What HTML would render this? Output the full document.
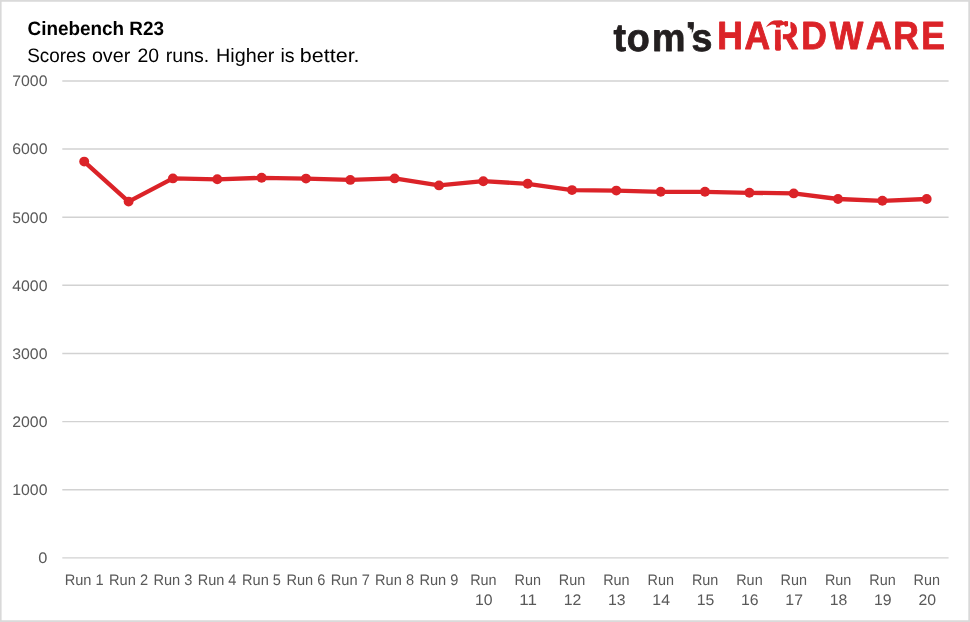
<!DOCTYPE html>
<html lang="en"><head><meta charset="utf-8"><title>Cinebench R23</title>
<style>
html,body{margin:0;padding:0;background:#fff;}
body{width:970px;height:622px;overflow:hidden;font-family:"Liberation Sans",sans-serif;}
svg{display:block;}
text{font-family:"Liberation Sans",sans-serif;text-rendering:geometricPrecision;}
.ax{fill:#595959;font-size:15.3px;}
.logo{font-weight:bold;}
</style></head><body>
<svg width="970" height="622" viewBox="0 0 970 622">
<rect x="0" y="0" width="970" height="622" fill="#fff"/>
<rect x="0.75" y="0.9" width="968.4" height="620.2" fill="none" stroke="#d9d9d9" stroke-width="1.7"/>
<line x1="62.3" y1="80.90" x2="948.6" y2="80.90" stroke="#d2d2d2" stroke-width="1.45"/>
<line x1="62.3" y1="149.04" x2="948.6" y2="149.04" stroke="#d2d2d2" stroke-width="1.45"/>
<line x1="62.3" y1="217.18" x2="948.6" y2="217.18" stroke="#d2d2d2" stroke-width="1.45"/>
<line x1="62.3" y1="285.32" x2="948.6" y2="285.32" stroke="#d2d2d2" stroke-width="1.45"/>
<line x1="62.3" y1="353.46" x2="948.6" y2="353.46" stroke="#d2d2d2" stroke-width="1.45"/>
<line x1="62.3" y1="421.60" x2="948.6" y2="421.60" stroke="#d2d2d2" stroke-width="1.45"/>
<line x1="62.3" y1="489.74" x2="948.6" y2="489.74" stroke="#d2d2d2" stroke-width="1.45"/>
<line x1="62.3" y1="557.88" x2="948.6" y2="557.88" stroke="#d2d2d2" stroke-width="1.45"/>
<text class="ax" x="12.29" y="86.25" textLength="35.18" lengthAdjust="spacingAndGlyphs">7000</text>
<text class="ax" x="12.29" y="154.39" textLength="35.18" lengthAdjust="spacingAndGlyphs">6000</text>
<text class="ax" x="12.29" y="222.53" textLength="35.18" lengthAdjust="spacingAndGlyphs">5000</text>
<text class="ax" x="12.29" y="290.67" textLength="35.18" lengthAdjust="spacingAndGlyphs">4000</text>
<text class="ax" x="12.29" y="358.81" textLength="35.18" lengthAdjust="spacingAndGlyphs">3000</text>
<text class="ax" x="12.29" y="426.95" textLength="35.18" lengthAdjust="spacingAndGlyphs">2000</text>
<text class="ax" x="12.29" y="495.09" textLength="35.18" lengthAdjust="spacingAndGlyphs">1000</text>
<text class="ax" x="38.36" y="563.23" textLength="9.13" lengthAdjust="spacingAndGlyphs">0</text>
<polyline points="84.2,161.6 128.6,201.6 172.9,178.4 217.3,179.3 261.6,177.8 306.0,178.6 350.3,179.9 394.6,178.4 439.0,185.4 483.3,181.2 527.7,183.8 572.0,190.1 616.3,190.6 660.7,191.8 705.0,191.8 749.4,192.8 793.7,193.4 838.0,199.0 882.4,200.8 926.7,199.0" fill="none" stroke="#db2328" stroke-width="4.3" stroke-linejoin="round" stroke-linecap="round"/>
<circle cx="84.2" cy="161.6" r="4.95" fill="#db2328"/>
<circle cx="128.6" cy="201.6" r="4.95" fill="#db2328"/>
<circle cx="172.9" cy="178.4" r="4.95" fill="#db2328"/>
<circle cx="217.3" cy="179.3" r="4.95" fill="#db2328"/>
<circle cx="261.6" cy="177.8" r="4.95" fill="#db2328"/>
<circle cx="306.0" cy="178.6" r="4.95" fill="#db2328"/>
<circle cx="350.3" cy="179.9" r="4.95" fill="#db2328"/>
<circle cx="394.6" cy="178.4" r="4.95" fill="#db2328"/>
<circle cx="439.0" cy="185.4" r="4.95" fill="#db2328"/>
<circle cx="483.3" cy="181.2" r="4.95" fill="#db2328"/>
<circle cx="527.7" cy="183.8" r="4.95" fill="#db2328"/>
<circle cx="572.0" cy="190.1" r="4.95" fill="#db2328"/>
<circle cx="616.3" cy="190.6" r="4.95" fill="#db2328"/>
<circle cx="660.7" cy="191.8" r="4.95" fill="#db2328"/>
<circle cx="705.0" cy="191.8" r="4.95" fill="#db2328"/>
<circle cx="749.4" cy="192.8" r="4.95" fill="#db2328"/>
<circle cx="793.7" cy="193.4" r="4.95" fill="#db2328"/>
<circle cx="838.0" cy="199.0" r="4.95" fill="#db2328"/>
<circle cx="882.4" cy="200.8" r="4.95" fill="#db2328"/>
<circle cx="926.7" cy="199.0" r="4.95" fill="#db2328"/>
<text class="ax" x="64.70" y="584.6" textLength="39.01" lengthAdjust="spacingAndGlyphs">Run 1</text>
<text class="ax" x="109.04" y="584.6" textLength="39.04" lengthAdjust="spacingAndGlyphs">Run 2</text>
<text class="ax" x="153.38" y="584.6" textLength="38.94" lengthAdjust="spacingAndGlyphs">Run 3</text>
<text class="ax" x="197.73" y="584.6" textLength="38.72" lengthAdjust="spacingAndGlyphs">Run 4</text>
<text class="ax" x="242.06" y="584.6" textLength="38.91" lengthAdjust="spacingAndGlyphs">Run 5</text>
<text class="ax" x="286.40" y="584.6" textLength="38.94" lengthAdjust="spacingAndGlyphs">Run 6</text>
<text class="ax" x="330.74" y="584.6" textLength="39.04" lengthAdjust="spacingAndGlyphs">Run 7</text>
<text class="ax" x="375.08" y="584.6" textLength="38.93" lengthAdjust="spacingAndGlyphs">Run 8</text>
<text class="ax" x="419.42" y="584.6" textLength="38.99" lengthAdjust="spacingAndGlyphs">Run 9</text>
<text class="ax" x="470.18" y="584.6" textLength="26.42" lengthAdjust="spacingAndGlyphs">Run</text>
<text class="ax" x="475.01" y="605.3" textLength="17.60" lengthAdjust="spacingAndGlyphs">10</text>
<text class="ax" x="514.52" y="584.6" textLength="26.42" lengthAdjust="spacingAndGlyphs">Run</text>
<text class="ax" x="519.35" y="605.3" textLength="17.60" lengthAdjust="spacingAndGlyphs">11</text>
<text class="ax" x="558.86" y="584.6" textLength="26.42" lengthAdjust="spacingAndGlyphs">Run</text>
<text class="ax" x="563.69" y="605.3" textLength="17.60" lengthAdjust="spacingAndGlyphs">12</text>
<text class="ax" x="603.20" y="584.6" textLength="26.42" lengthAdjust="spacingAndGlyphs">Run</text>
<text class="ax" x="608.03" y="605.3" textLength="17.60" lengthAdjust="spacingAndGlyphs">13</text>
<text class="ax" x="647.54" y="584.6" textLength="26.42" lengthAdjust="spacingAndGlyphs">Run</text>
<text class="ax" x="652.37" y="605.3" textLength="17.60" lengthAdjust="spacingAndGlyphs">14</text>
<text class="ax" x="691.88" y="584.6" textLength="26.42" lengthAdjust="spacingAndGlyphs">Run</text>
<text class="ax" x="696.71" y="605.3" textLength="17.60" lengthAdjust="spacingAndGlyphs">15</text>
<text class="ax" x="736.22" y="584.6" textLength="26.42" lengthAdjust="spacingAndGlyphs">Run</text>
<text class="ax" x="741.05" y="605.3" textLength="17.60" lengthAdjust="spacingAndGlyphs">16</text>
<text class="ax" x="780.56" y="584.6" textLength="26.42" lengthAdjust="spacingAndGlyphs">Run</text>
<text class="ax" x="785.39" y="605.3" textLength="17.60" lengthAdjust="spacingAndGlyphs">17</text>
<text class="ax" x="824.90" y="584.6" textLength="26.42" lengthAdjust="spacingAndGlyphs">Run</text>
<text class="ax" x="829.73" y="605.3" textLength="17.60" lengthAdjust="spacingAndGlyphs">18</text>
<text class="ax" x="869.24" y="584.6" textLength="26.42" lengthAdjust="spacingAndGlyphs">Run</text>
<text class="ax" x="874.07" y="605.3" textLength="17.60" lengthAdjust="spacingAndGlyphs">19</text>
<text class="ax" x="913.58" y="584.6" textLength="26.42" lengthAdjust="spacingAndGlyphs">Run</text>
<text class="ax" x="918.41" y="605.3" textLength="17.60" lengthAdjust="spacingAndGlyphs">20</text>
<text x="27.5" y="35.4" font-size="19.4px" font-weight="bold" fill="#000" textLength="136.5" lengthAdjust="spacingAndGlyphs">Cinebench R23</text>
<text y="62" font-size="19.4px" fill="#000"><tspan x="27.2" textLength="58.9" lengthAdjust="spacingAndGlyphs">Scores</tspan> <tspan x="91.9" textLength="38.4" lengthAdjust="spacingAndGlyphs">over</tspan> <tspan x="137.4" textLength="21.6" lengthAdjust="spacingAndGlyphs">20</tspan> <tspan x="165.8" textLength="43.5" lengthAdjust="spacingAndGlyphs">runs.</tspan> <tspan x="216.1" textLength="58.2" lengthAdjust="spacingAndGlyphs">Higher</tspan> <tspan x="280.5" textLength="14.2" lengthAdjust="spacingAndGlyphs">is</tspan> <tspan x="299.8" textLength="59.8" lengthAdjust="spacingAndGlyphs">better.</tspan></text>
<text class="logo" transform="scale(0.97,1)" x="632.56 646.14 672.26 706.67 712.83" y="50.5 50.5 50.5 49.2 50.5" font-size="38.8px" fill="#231f20" stroke="#231f20" stroke-width="0.8" stroke-linejoin="round">tom’s</text>
<rect x="685.8" y="29.3" width="6" height="6" fill="#fff"/>
<text class="logo" transform="scale(0.905,1)" x="792.60 822.61 854.05 885.36 916.75 956.81 987.15 1017.93" y="49.3" font-size="39.2px" fill="#db2328" stroke="#db2328" stroke-width="0.9" stroke-linejoin="round">HARDWARE</text>
<g>
<rect x="780.76" y="18" width="2.16" height="34" fill="#fff"/>
<rect x="764" y="18" width="26.40" height="11.70" fill="#fff"/>
<rect x="775.36" y="44" width="5.40" height="6.84" rx="1.6" fill="#db2328"/>
<path d="M765.99,27.25 C767.54,24.68 770.43,21.14 773.97,20.44 L781.36,20.24 L784.00,22.05 L784.90,21.08 L788.05,21.27 L788.05,26.03 L785.22,26.68 L784.00,24.75 C782.65,25.16 781.36,25.39 780.14,25.65 L780.14,27.45 L776.03,27.45 L776.03,25.52 C774.93,24.42 773.32,24.20 771.72,24.62 C769.47,25.26 767.54,26.29 765.99,27.25 Z" fill="#db2328"/>
</g>
</svg>
</body></html>
